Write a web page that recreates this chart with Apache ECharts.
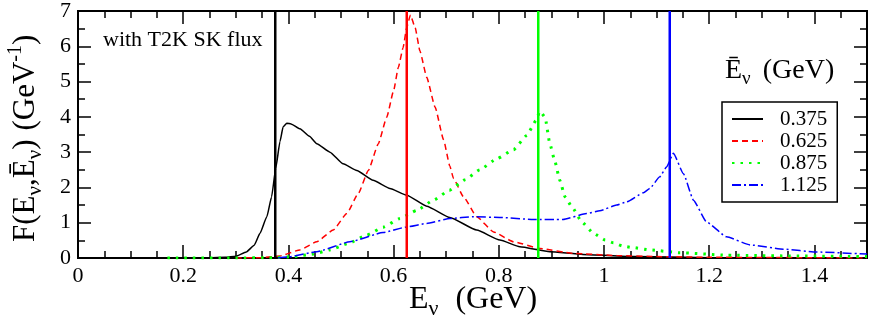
<!DOCTYPE html>
<html>
<head>
    <meta charset="utf-8">
    <title>F(E,Ebar) T2K SK</title>
    <script src="https://cdn.jsdelivr.net/npm/echarts@6/dist/echarts.min.js"></script>
    <style>
        body { margin: 0; background: #fff; }
    </style>
</head>
<body>
<div id="main" style="width: 872px;height:327px;"></div>

<script type="text/javascript">
    // curve for mean energy 0.375 GeV
    var e375 = [0.00, 0.20, 0.25, 0.28, 0.30, 0.32, 0.335, 0.346, 0.359, 0.368, 0.376, 0.384, 0.390, 0.397, 0.405, 0.422, 0.440, 0.454, 0.479, 0.504, 0.530, 0.561, 0.593, 0.625, 0.663, 0.707, 0.758, 0.802, 0.840, 0.897, 0.960, 1.055, 1.200, 1.500];
    var f375 = [0.00, 0.00, 0.01, 0.02, 0.05, 0.17, 0.36, 0.70, 1.17, 1.73, 2.55, 3.30, 3.72, 3.82, 3.80, 3.66, 3.45, 3.24, 3.00, 2.67, 2.48, 2.20, 1.97, 1.78, 1.47, 1.15, 0.79, 0.51, 0.32, 0.18, 0.10, 0.04, 0.01, 0.00];
    // 0.625 GeV
    var e625 = [0.30, 0.35, 0.384, 0.422, 0.454, 0.485, 0.511, 0.533, 0.552, 0.571, 0.587, 0.600, 0.609, 0.618, 0.625, 0.632, 0.641, 0.650, 0.663, 0.679, 0.695, 0.707, 0.714, 0.733, 0.758, 0.790, 0.828, 0.878, 0.942, 1.024, 1.100, 1.200, 1.500];
    var f625 = [0.00, 0.01, 0.06, 0.23, 0.46, 0.79, 1.26, 1.83, 2.48, 3.24, 3.99, 4.74, 5.40, 5.96, 6.53, 6.89, 6.53, 5.87, 5.12, 4.27, 3.35, 2.60, 2.25, 1.73, 1.17, 0.74, 0.46, 0.27, 0.13, 0.07, 0.04, 0.02, 0.00];
    // 0.875 GeV
    var e875 = [0.17, 0.30, 0.37, 0.41, 0.447, 0.479, 0.514, 0.549, 0.580, 0.612, 0.644, 0.676, 0.706, 0.736, 0.764, 0.796, 0.828, 0.853, 0.871, 0.878, 0.888, 0.897, 0.907, 0.916, 0.926, 0.939, 0.958, 0.980, 1.002, 1.018, 1.035, 1.053, 1.087, 1.144, 1.233, 1.340, 1.500];
    var f875 = [0.00, 0.00, 0.01, 0.04, 0.11, 0.23, 0.41, 0.65, 0.87, 1.12, 1.35, 1.64, 1.92, 2.22, 2.50, 2.81, 3.07, 3.47, 3.90, 4.16, 3.99, 3.24, 2.72, 2.20, 1.73, 1.45, 1.02, 0.70, 0.51, 0.43, 0.34, 0.30, 0.23, 0.15, 0.08, 0.06, 0.04];
    // 1.125 GeV
    var e1125 = [0.38, 0.40, 0.454, 0.517, 0.580, 0.625, 0.663, 0.707, 0.752, 0.802, 0.866, 0.922, 0.967, 0.992, 1.024, 1.043, 1.075, 1.087, 1.106, 1.119, 1.132, 1.151, 1.170, 1.195, 1.233, 1.278, 1.341, 1.404, 1.500];
    var f1125 = [0.00, 0.03, 0.18, 0.46, 0.72, 0.88, 0.98, 1.12, 1.17, 1.15, 1.09, 1.09, 1.26, 1.34, 1.50, 1.59, 1.85, 1.97, 2.30, 2.58, 2.97, 2.39, 1.64, 1.02, 0.60, 0.37, 0.25, 0.17, 0.11];

    var meanE = [0.375, 0.625, 0.875, 1.125];
    var names = ['0.375', '0.625', '0.875', '1.125'];
    var colors = ['#000000', '#ff0000', '#00ff00', '#0000ff'];
    var xTicks = [0, 0.2, 0.4, 0.6, 0.8, 1, 1.2, 1.4];
    var yTicks = [0, 1, 2, 3, 4, 5, 6, 7];

    var font = 'Liberation Serif';
    var myChart = echarts.init(document.getElementById('main'));

    function pairs(xs, ys) {
        var out = [];
        for (var i = 0; i < xs.length; i++) out.push([xs[i], ys[i]]);
        return out;
    }

    function axis(pos, step, tickLen, labels) {
        var isX = (pos == 'bottom' || pos == 'top');
        return {
            type: 'value',
            position: pos,
            min: isX ? xTicks[0] : yTicks[0],
            max: isX ? 1.5 : yTicks[yTicks.length - 1],
            interval: step,
            axisLine: { show: true, onZero: false, lineStyle: { color: '#000', width: 2 } },
            axisTick: { show: true, inside: true, length: tickLen, lineStyle: { color: '#000', width: 1.5 } },
            axisLabel: {
                show: labels, showMaxLabel: !isX, margin: 7,
                color: '#000', fontFamily: font, fontSize: 22
            },
            splitLine: { show: false }
        };
    }

    var curves = [pairs(e375, f375), pairs(e625, f625), pairs(e875, f875), pairs(e1125, f1125)];
    var lineTypes = ['solid', [6, 4], [2.5, 6], [9, 3, 2, 3]];
    var lineWidths = [1.5, 1.5, 3, 1.5];

    var series = [];
    for (var i = 0; i < curves.length; i++) {
        series.push({
            name: names[i],
            type: 'line',
            data: curves[i],
            symbol: 'none',
            smooth: 0.15,
            smoothMonotone: 'x',
            lineStyle: { color: colors[i], width: lineWidths[i], type: lineTypes[i] },
            itemStyle: { color: colors[i] },
            z: 3
        });
    }
    // vertical lines at the mean energies
    for (var i = 0; i < meanE.length; i++) {
        series.push({
            name: 'mean' + i,
            type: 'line',
            data: [[meanE[i], 0], [meanE[i], 7]],
            symbol: 'none',
            lineStyle: { color: colors[i], width: 2.5 },
            z: 4
        });
    }

    myChart.setOption({
        animation: false,
        grid: { left: 78, right: 5, top: 10, bottom: 69 },
        xAxis: [
            axis('bottom', 0.2, 13, true),
            axis('bottom', 0.05, 7, false),
            axis('top', 0.2, 13, false),
            axis('top', 0.05, 7, false)
        ],
        yAxis: [
            axis('left', 1, 13, true),
            axis('left', 0.5, 7, false),
            axis('right', 1, 13, false),
            axis('right', 0.5, 7, false)
        ],
        legend: {
            data: names,
            orient: 'vertical',
            left: 722,
            top: 102,
            itemWidth: 31,
            itemHeight: 10,
            itemGap: 0,
            padding: [6, 10, 6, 9],
            borderColor: '#000',
            borderWidth: 1.5,
            backgroundColor: '#fff',
            selectedMode: false,
            itemStyle: { color: 'rgba(0,0,0,0)', borderWidth: 0, opacity: 0 },
            textStyle: { color: '#000', fontFamily: font, fontSize: 21, lineHeight: 22, padding: [0, 0, 0, 12] }
        },
        graphic: [
            {
                type: 'text', x: 103, y: 40,
                style: { text: 'with T2K SK flux', font: '22px "Liberation Serif"', fill: '#000', verticalAlign: 'middle' }
            },
            {
                type: 'text', x: 473, y: 300,
                style: {
                    text: '{m|E}{s|ν}{g|}{m|(GeV)}', align: 'center', verticalAlign: 'middle',
                    rich: {
                        m: { fontFamily: font, fontSize: 32, lineHeight: 40, fill: '#000' },
                        s: { fontFamily: font, fontSize: 22, lineHeight: 18, verticalAlign: 'bottom', fill: '#000' },
                        g: { width: 17, fontSize: 32 }
                    }
                }
            },
            {
                type: 'text', x: 26, y: 242, rotation: Math.PI / 2,
                style: {
                    text: '{m|F(E}{s|ν}{m|,Ē}{s|ν}{m|)}{g|}{m|(GeV}{p|-1}{m|)}', align: 'left', verticalAlign: 'middle',
                    rich: {
                        m: { fontFamily: font, fontSize: 31, lineHeight: 40, fill: '#000' },
                        s: { fontFamily: font, fontSize: 21, lineHeight: 18, verticalAlign: 'bottom', fill: '#000' },
                        p: { fontFamily: font, fontSize: 20, lineHeight: 18, verticalAlign: 'top', fill: '#000' },
                        g: { width: 9, fontSize: 31 }
                    }
                }
            },
            {
                type: 'text', x: 725, y: 71,
                style: {
                    text: '{m|Ē}{s|ν}{g|}{m|(GeV)}', verticalAlign: 'middle',
                    rich: {
                        m: { fontFamily: font, fontSize: 28, lineHeight: 36, fill: '#000' },
                        s: { fontFamily: font, fontSize: 19, lineHeight: 16, verticalAlign: 'bottom', fill: '#000' },
                        g: { width: 12, fontSize: 28 }
                    }
                }
            }
        ],
        series: series
    });
</script>
</body>
</html>
